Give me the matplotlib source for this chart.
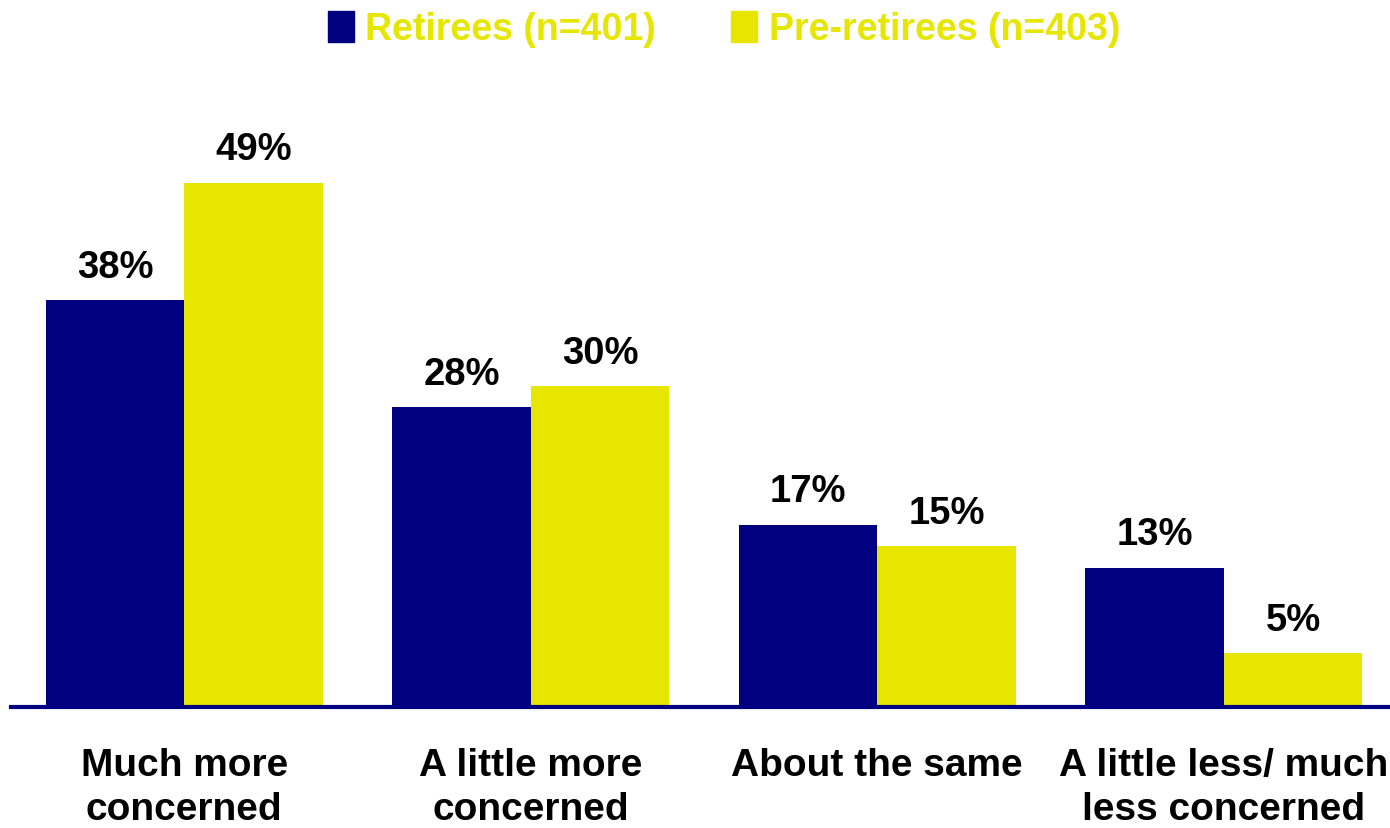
import matplotlib
matplotlib.use("Agg")
import matplotlib.pyplot as plt
from matplotlib.patches import Patch
import numpy as np

categories = ["Much more\nconcerned", "A little more\nconcerned", "About the same", "A little less/ much\nless concerned"]
retirees = [38, 28, 17, 13]
pre_retirees = [49, 30, 15, 5]
series_names = ["Retirees (n=401)", "Pre-retirees (n=403)"]

NAVY = "#000080"
YELLOW = "#E6E600"

plt.rcParams['font.family'] = ['Liberation Sans', 'DejaVu Sans']
plt.rcParams['font.weight'] = 'bold'

W, H = 1390, 829
fig = plt.figure(figsize=(W / 100, H / 100), dpi=100)
left = 11 / W
bottom = (H - 707.5) / H
ymax = 55
pxper = 10.69
height = ymax * pxper / H
width = 4 * 346.5 / W
ax = fig.add_axes([left, bottom, width, height])

x = np.arange(len(categories))
bw = 0.4
b1 = ax.bar(x - bw / 2, retirees, bw, color=NAVY, label=series_names[0])
b2 = ax.bar(x + bw / 2, pre_retirees, bw, color=YELLOW, label=series_names[1])

for bars in (b1, b2):
    for r in bars:
        ax.annotate(f"{int(r.get_height())}%", (r.get_x() + r.get_width() / 2, r.get_height()),
                    xytext=(0, 11), textcoords="offset points", ha="center", va="bottom",
                    fontsize=27.5, fontweight="bold", color="black")

ax.set_xlim(-0.5, 3.5)
ax.set_ylim(0, ymax)
ax.set_yticks([])
ax.set_xticks(x)
ax.set_xticklabels(categories, fontsize=28, fontweight="bold", linespacing=1.3)
ax.tick_params(axis="x", length=0, pad=29)
for s in ("top", "right", "left"):
    ax.spines[s].set_visible(False)
ax.spines["bottom"].set_color(NAVY)
ax.spines["bottom"].set_linewidth(3)

handles = [Patch(color=NAVY), Patch(color=YELLOW)]
leg = fig.legend(handles, series_names, loc="center", bbox_to_anchor=(724 / W, 1 - 30 / H),
                 ncol=2, frameon=False, fontsize=27, handlelength=0.7, handleheight=0.9,
                 handletextpad=0.3, columnspacing=2.0)
for t in leg.get_texts():
    t.set_color(YELLOW)
    t.set_fontweight("bold")

fig.savefig("out.png", dpi=100)
